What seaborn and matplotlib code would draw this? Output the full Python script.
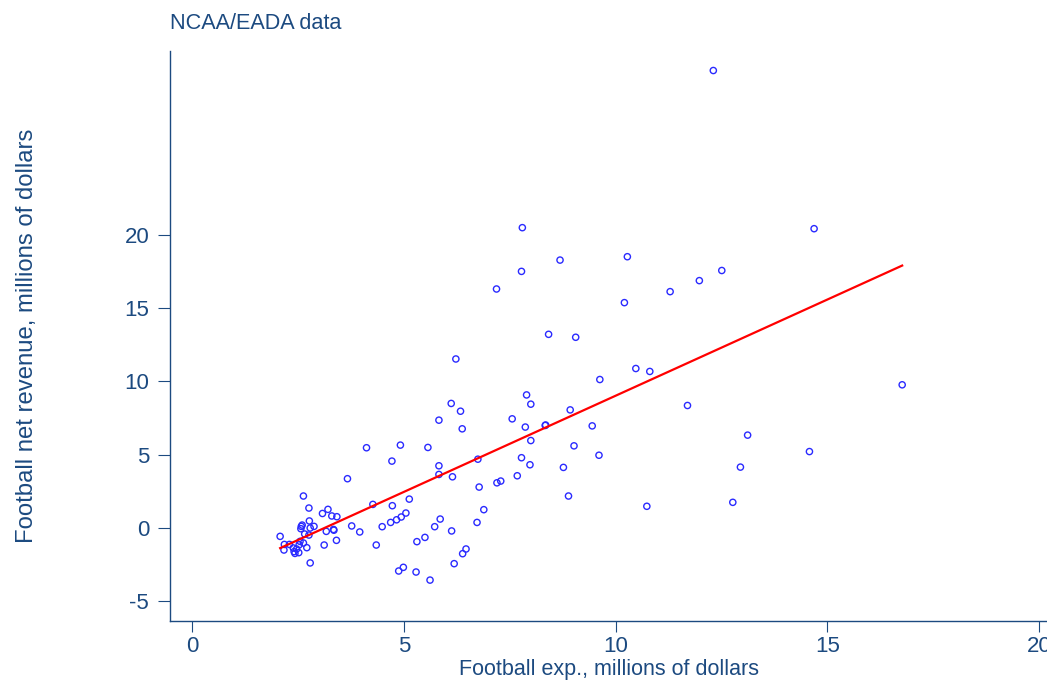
import numpy as np
import pandas as pd
import seaborn as sns
import matplotlib.pyplot as plt

# football expenses vs net revenue (millions of dollars)
football_exp = [
    2.08, 2.18, 2.17, 2.30, 2.39, 2.41, 2.43, 2.47, 2.52, 2.53, 2.55, 2.63, 2.71,
    2.79, 2.63, 2.76, 2.77, 2.60, 2.58, 2.57, 2.79, 2.88, 2.66, 2.76, 3.08, 3.21,
    3.30, 3.42, 3.17, 3.34, 3.35, 3.41, 3.12,
    4.27, 4.73, 5.13, 3.77, 3.96, 4.49, 4.69, 4.83, 4.94, 5.05, 4.35, 5.31, 5.50,
    5.73, 5.86, 6.13, 6.19, 4.88, 4.99, 5.29, 5.62,
    3.67, 4.12, 4.72, 4.92, 5.57, 5.83, 5.83,
    6.12, 6.34, 5.83, 6.38, 6.15, 6.75, 6.78, 7.20, 7.29, 7.68, 7.78, 7.98, 8.00,
    7.87, 7.56, 7.90, 8.00, 8.34, 8.35, 8.93, 9.45, 9.02, 8.77, 8.89, 6.73, 6.89,
    6.39, 6.47, 9.61,
    7.80, 8.69, 10.28, 7.78, 7.19, 10.21, 11.29, 11.98, 8.42, 9.06, 6.23, 9.63,
    10.48, 10.81,
    12.31, 14.69, 12.51,
    11.70, 13.12, 12.95, 14.58, 12.77, 10.74, 16.77,
]
net_revenue = [
    -0.57, -1.12, -1.50, -1.12, -1.36, -1.61, -1.73, -1.43, -1.68, -1.14, -0.91,
    -1.02, -1.34, -2.38, 2.18, 1.36, 0.48, 0.20, 0.11, -0.05, 0.00, 0.11, -0.41,
    -0.48, 0.99, 1.27, 0.82, 0.77, -0.23, -0.10, -0.15, -0.84, -1.16,
    1.61, 1.52, 1.97, 0.14, -0.27, 0.09, 0.38, 0.56, 0.75, 1.02, -1.16, -0.93,
    -0.64, 0.09, 0.61, -0.20, -2.43, -2.93, -2.68, -3.00, -3.55,
    3.36, 5.47, 4.56, 5.65, 5.49, 4.24, 3.65,
    8.49, 7.96, 7.35, 6.76, 3.49, 4.69, 2.79, 3.08, 3.20, 3.56, 4.79, 4.31, 5.96,
    6.88, 7.44, 9.07, 8.44, 6.99, 7.02, 8.05, 6.96, 5.60, 4.13, 2.18, 0.38, 1.25,
    -1.75, -1.43, 4.96,
    20.47, 18.26, 18.49, 17.49, 16.29, 15.36, 16.11, 16.86, 13.20, 13.00, 11.52,
    10.12, 10.87, 10.67,
    31.18, 20.40, 17.55,
    8.35, 6.33, 4.15, 5.21, 1.75, 1.48, 9.76,
]

x_ticks = [0, 5, 10, 15, 20]
y_ticks = [-5, 0, 5, 10, 15, 20]

df = pd.DataFrame({"exp": football_exp, "net": net_revenue})

navy = "#1c4a80"
plt.rcParams["font.family"] = ["Liberation Sans", "DejaVu Sans"]

fig = plt.figure(figsize=(10.47, 6.82), dpi=100)
ax = fig.add_axes([0.1624, 0.0894, 0.8376, 0.8356])

sns.scatterplot(data=df, x="exp", y="net", ax=ax, marker="o", s=20,
                facecolors="none", edgecolor="#2a2aff", linewidth=1.0)
sns.regplot(data=df, x="exp", y="net", ax=ax, scatter=False, ci=None,
            line_kws=dict(color="red", lw=1.6))

ax.set_xlim(-0.52, 20.19)
ax.set_ylim(-6.34, 32.5)
ax.set_xticks(x_ticks)
ax.set_yticks(y_ticks)
ax.set_xticklabels([str(t) for t in x_ticks])
ax.set_yticklabels([str(t) for t in y_ticks])

for side in ["top", "right"]:
    ax.spines[side].set_visible(False)
for side in ["left", "bottom"]:
    ax.spines[side].set_color(navy)
    ax.spines[side].set_linewidth(1.0)

ax.tick_params(axis="x", colors=navy, length=8, width=0.8, pad=3, labelsize=16)
ax.tick_params(axis="y", colors=navy, length=9, width=0.8, pad=6, labelsize=16)

ax.set_xlabel("Football exp., millions of dollars", color=navy, fontsize=15.5,
              labelpad=1)
ax.set_ylabel("Football net revenue, millions of dollars", color=navy, fontsize=17.2,
              labelpad=62)
ax.set_title("NCAA/EADA data", loc="left", color=navy, fontsize=15.6, pad=16)

fig.savefig("out.png", dpi=100)
